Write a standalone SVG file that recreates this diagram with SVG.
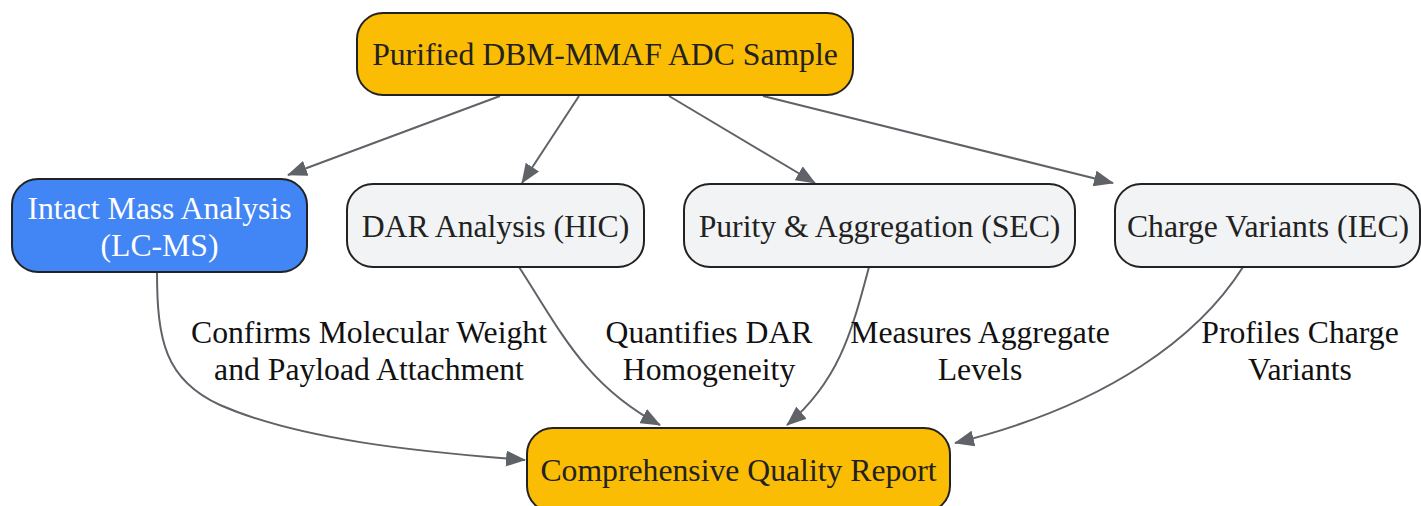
<svg xmlns="http://www.w3.org/2000/svg" width="1421" height="506" viewBox="0 0 1421 506">
<defs>
<marker id="arr" markerWidth="20" markerHeight="16" refX="19" refY="8" orient="auto" markerUnits="userSpaceOnUse" viewBox="0 0 20 16">
<path d="M0,0 L20,8 L0,16 z" fill="#5f6368"/>
</marker>
<style>
.node rect{stroke:#222;stroke-width:2}
.gold{fill:#fbbc04}
.gray{fill:#f1f3f4}
.blue{fill:#4285f4}
text{font-family:"Liberation Serif","Times New Roman",serif;font-size:31.7px;text-anchor:middle}
.nt{fill:#222}
.wt{fill:#fff}
.lbl{fill:#111}
.edge{fill:none;stroke:#5f6368;stroke-width:2;marker-end:url(#arr)}
</style>
</defs>
<rect width="1421" height="506" fill="#fff"/>
<g id="connectors">
<path class="edge" d="M500,96 L288,175"/>
<path class="edge" d="M579,96 L522,183"/>
<path class="edge" d="M669,96 L815,183"/>
<path class="edge" d="M763,96 L1113,183"/>
<path class="edge" d="M157,272 C157,340 165,380 220,405 C300,440 420,452 525,460"/>
<path class="edge" d="M519,267 C560,330 585,385 660,425"/>
<path class="edge" d="M869,267 C852,330 840,380 787,425"/>
<path class="edge" d="M1243,267 C1200,335 1110,405 955,443"/>
</g>
<g id="edge-labels">
<text class="lbl" x="369" y="343">Confirms Molecular Weight</text>
<text class="lbl" x="369" y="380">and Payload Attachment</text>
<text class="lbl" x="709" y="343">Quantifies DAR</text>
<text class="lbl" x="709" y="380">Homogeneity</text>
<text class="lbl" x="980" y="343">Measures Aggregate</text>
<text class="lbl" x="980" y="380">Levels</text>
<text class="lbl" x="1300" y="343">Profiles Charge</text>
<text class="lbl" x="1300" y="380">Variants</text>
</g>
<g id="node-sample" class="node">
<rect class="gold" x="357" y="13" width="496" height="82" rx="26"/>
<text class="nt" x="605" y="65">Purified DBM-MMAF ADC Sample</text>
</g>
<g id="node-intact" class="node">
<rect class="blue" x="12" y="179" width="295" height="93" rx="26"/>
<text class="wt" x="159.5" y="219">Intact Mass Analysis</text>
<text class="wt" x="159.5" y="256">(LC-MS)</text>
</g>
<g id="node-dar" class="node">
<rect class="gray" x="347" y="184" width="297" height="83" rx="26"/>
<text class="nt" x="495.5" y="237">DAR Analysis (HIC)</text>
</g>
<g id="node-sec" class="node">
<rect class="gray" x="684" y="184" width="391" height="83" rx="26"/>
<text class="nt" x="879.5" y="237">Purity &amp; Aggregation (SEC)</text>
</g>
<g id="node-iec" class="node">
<rect class="gray" x="1115" y="184" width="305" height="83" rx="26"/>
<text class="nt" x="1268" y="237">Charge Variants (IEC)</text>
</g>
<g id="node-report" class="node">
<rect class="gold" x="527" y="428" width="423" height="84" rx="26"/>
<text class="nt" x="738.5" y="481">Comprehensive Quality Report</text>
</g>
</svg>
